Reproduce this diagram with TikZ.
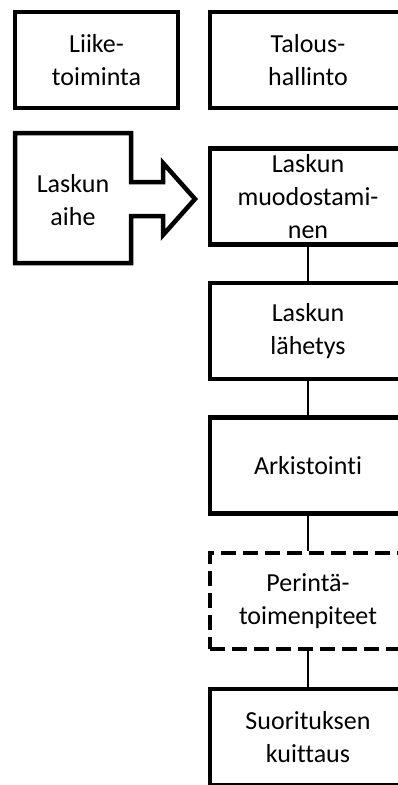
\documentclass[tikz,border=0pt]{standalone}
\usepackage{fontspec}
\setmainfont{Carlito}[Ligatures=NoCommon]
\begin{document}
\begin{tikzpicture}[x=1pt,y=-1pt,
  box/.style={draw, line width=4.5pt, minimum width=196pt, minimum height=96pt,
    inner sep=0pt, align=center, font=\fontsize{26}{33}\selectfont},
  sidebox/.style={box, minimum width=163pt},
  optbox/.style={box, dash pattern=on 15pt off 7pt},
  link/.style={line width=1.8pt},
  label/.style={align=center, inner sep=0pt, font=\fontsize{26}{33}\selectfont}]
  \useasboundingbox (0,0) rectangle (398,785);
  \fill[white] (0,0) rectangle (398,785);
  \clip (0,0) rectangle (398,785);

  % column headers
  \node[sidebox] (liike) at (96.5,60) {Liike-\\toiminta};
  \node[box] (talous) at (308,60) {Talous-\\hallinto};

  % source of the invoice, with block arrow into the process
  \draw[line width=4.5pt, line join=miter]
    (15,133) -- (131,133) -- (131,182) -- (163,182) -- (163,163) -- (195,199)
    -- (163,235) -- (163,216) -- (131,216) -- (131,263) -- (15,263) -- cycle;
  \node[label] (aihe) at (73,200) {Laskun\\aihe};

  % process steps
  \node[box] (muod) at (308,196.5) {Laskun\\muodostami-\\nen};
  \node[box] (lah) at (308,331) {Laskun\\lähetys};
  \node[box] (ark) at (308,465.5) {Arkistointi};
  \node[optbox] (per) at (308,601) {Perintä-\\toimenpiteet};
  \node[box] (suor) at (308,737) {Suorituksen\\kuittaus};

  \draw[link] (muod.south) -- (lah.north);
  \draw[link] (lah.south) -- (ark.north);
  \draw[link] (ark.south) -- (per.north);
  \draw[link] (per.south) -- (suor.north);
\end{tikzpicture}
\end{document}
